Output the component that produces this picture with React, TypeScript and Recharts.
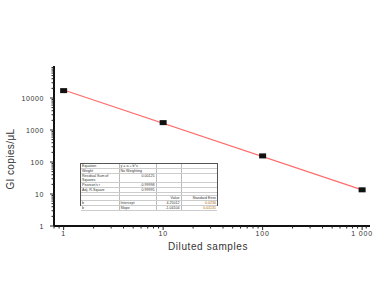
import React from "react"
import { ComposedChart, Line, Scatter, XAxis, YAxis } from "recharts"

const dilutions = [1, 10, 100, 1000]
const copies = [17000, 1700, 155, 13.5]
const fitX = [1, 1000]
const fitY = [17780, 13.5]

const xMajor = [1, 10, 100, 1000]
const xMinor = [0.8, 0.9, 2, 3, 4, 5, 6, 7, 8, 9, 20, 30, 40, 50, 60, 70, 80, 90, 200, 300, 400, 500, 600, 700, 800, 900, 1100]
const yMajor = [1, 10, 100, 1000, 10000]
const yMinor = [2, 3, 4, 5, 6, 7, 8, 9, 20, 30, 40, 50, 60, 70, 80, 90, 200, 300, 400, 500, 600, 700, 800, 900, 2000, 3000, 4000, 5000, 6000, 7000, 8000, 9000, 20000, 30000, 40000, 50000, 60000, 70000, 80000, 90000]
const xTickLabels = ["1", "10", "100", "1 000"]

const tableRows = [
  ["Equation", "y = a + b*x", "", ""],
  ["Weight", "No Weighting", "", ""],
  ["Residual Sum of Squares", "0.00125", "", ""],
  ["Pearson's r", "-0.99998", "", ""],
  ["Adj. R-Square", "0.99995", "", ""],
]
const paramRows = [
  ["", "", "Value", "Standard Error"],
  ["b", "Intercept", "4.25012", "0.0236"],
  ["b", "Slope", "-1.04104", "0.01131"],
]

const points = dilutions.map((x, i) => ({ x, y: copies[i] }))
const fit = fitX.map((x, i) => ({ x, fit: fitY[i] }))

const font = "Liberation Sans, Arial, sans-serif"

const XTick = (props: any) => {
  const { x, y, payload } = props
  const idx = xMajor.indexOf(payload.value)
  const major = idx >= 0
  return (
    <g>
      <line x1={x} x2={x} y1={y} y2={y + (major ? 4 : 2.5)} stroke="#222" strokeWidth={1} />
      {major && (
        <text x={x} y={y + 10} textAnchor="middle" fontSize={7} letterSpacing={0.8} fontFamily={font} fill="#333">
          {xTickLabels[idx]}
        </text>
      )}
    </g>
  )
}

const YTick = (props: any) => {
  const { x, y, payload } = props
  const major = yMajor.includes(payload.value)
  return (
    <g>
      <line x1={x} x2={x - (major ? 4 : 2.5)} y1={y} y2={y} stroke="#222" strokeWidth={1} />
      {major && (
        <text x={x - 10} y={y + 2.5} textAnchor="end" fontSize={7} letterSpacing={0.6} fontFamily={font} fill="#333">
          {String(payload.value)}
        </text>
      )}
    </g>
  )
}

const Square = (props: any) => (
  <rect x={props.cx - 3.5} y={props.cy - 2.5} width={7} height={5} fill="#111" />
)

const cell: React.CSSProperties = {
  borderRight: "0.5px solid #bbb",
  borderBottom: "0.5px solid #ccc",
  padding: "0 1px",
  lineHeight: "4px",
  verticalAlign: "top",
}

export default function App() {
  return (
    <div style={{ position: "absolute", left: 0, top: 0, width: 380, height: 303, background: "#fff" }}>
      <ComposedChart width={380} height={303} margin={{ top: 66, right: 10, bottom: 57, left: 24 }}>
        <XAxis
          dataKey="x"
          type="number"
          scale="log"
          domain={[0.8, 1200]}
          allowDataOverflow
          ticks={[...xMajor, ...xMinor]}
          interval={0}
          tick={<XTick />}
          tickLine={false}
          tickSize={0}
          tickMargin={0}
          height={20}
          axisLine={{ stroke: "#111", strokeWidth: 2 }}
          label={{
            content: () => (
              <text x={208} y={250} textAnchor="middle" fontSize={10} letterSpacing={0.6} fontFamily={font} fill="#333">
                Diluted samples
              </text>
            ),
          }}
        />
        <YAxis
          type="number"
          scale="log"
          domain={[1, 100000]}
          allowDataOverflow
          ticks={[...yMajor, ...yMinor]}
          interval={0}
          tick={<YTick />}
          tickLine={false}
          tickSize={0}
          tickMargin={0}
          width={30}
          axisLine={{ stroke: "#111", strokeWidth: 2 }}
          label={{
            content: () => (
              <text x={14} y={159} transform="rotate(-90 14 159)" textAnchor="middle" fontSize={10} letterSpacing={0.4} fontFamily={font} fill="#333">
                GI copies/μL
              </text>
            ),
          }}
        />
        <Line data={fit} dataKey="fit" stroke="#ff6b6b" strokeWidth={1.2} dot={false} isAnimationActive={false} />
        <Scatter data={points} dataKey="y" shape={<Square />} isAnimationActive={false} />
      </ComposedChart>
      <div
        style={{
          position: "absolute",
          left: 80,
          top: 163,
          width: 138,
          height: 43,
          border: "1px solid #555",
          background: "#fff",
          fontFamily: font,
          fontSize: 3.6,
          color: "#333",
          boxSizing: "border-box",
        }}
      >
        <table style={{ borderCollapse: "collapse", width: "100%", tableLayout: "fixed" }}>
          <colgroup>
            <col style={{ width: 38 }} />
            <col style={{ width: 37 }} />
            <col style={{ width: 25 }} />
            <col style={{ width: 36 }} />
          </colgroup>
          <tbody>
            {tableRows.map((r, i) => (
              <tr key={i} style={{ height: i === 2 ? 8 : 4.4 }}>
                <td style={cell}>{r[0]}</td>
                <td style={{ ...cell, textAlign: i < 2 ? "left" : "right" }}>{r[1]}</td>
                <td style={cell}>{r[2]}</td>
                <td style={{ ...cell, borderRight: "none" }}>{r[3]}</td>
              </tr>
            ))}
            <tr style={{ height: 2.5 }}>
              <td style={cell}></td>
              <td style={cell}></td>
              <td style={cell}></td>
              <td style={{ ...cell, borderRight: "none" }}></td>
            </tr>
            {paramRows.map((r, i) => (
              <tr key={"p" + i} style={{ height: 4.4 }}>
                <td style={cell}>{r[0]}</td>
                <td style={cell}>{r[1]}</td>
                <td style={{ ...cell, textAlign: "right" }}>{r[2]}</td>
                <td style={{ ...cell, borderRight: "none", textAlign: "right", color: i > 0 ? "#a66a00" : "#333" }}>{r[3]}</td>
              </tr>
            ))}
          </tbody>
        </table>
      </div>
    </div>
  )
}
